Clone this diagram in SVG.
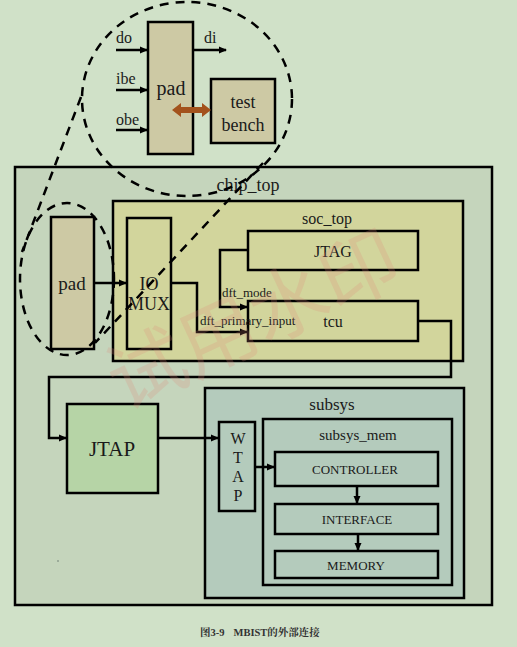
<svg xmlns="http://www.w3.org/2000/svg" width="517" height="647" viewBox="0 0 517 647">
<defs>
<marker id="ah" markerWidth="8" markerHeight="8" refX="7" refY="4" orient="auto" markerUnits="userSpaceOnUse">
<path d="M0,0.5 L8,4 L0,7.5 z" fill="#000"/>
</marker>
</defs>
<style>
.box{stroke:#000;stroke-width:2.5}
.t{font-family:"Liberation Serif",serif;fill:#1a1a1a;text-anchor:middle}
.dash{fill:none;stroke:#000;stroke-width:2.5;stroke-dasharray:9,7}
.c{fill:none;stroke:#000;stroke-width:2.5}
</style>
<rect width="517" height="647" fill="#d0e1c8"/>
<g id="chip_top"><rect class="box" x="15" y="167" width="477" height="438" fill="#c5d5bc"/><text class="t" x="248" y="191" font-size="18">chip_top</text></g>
<g id="soc_top"><rect class="box" x="113" y="201" width="350" height="160" fill="#d2d59c"/><text class="t" x="327" y="224" font-size="16">soc_top</text></g>
<g id="pad"><rect class="box" x="51" y="217" width="43" height="132" fill="#cdc9a4"/><text class="t" x="72" y="290" font-size="19">pad</text></g>
<g id="iomux"><rect class="box" x="127" y="218" width="44" height="131" fill="#d2d59c"/><text class="t" x="149" y="290" font-size="18">IO</text><text class="t" x="149" y="310" font-size="18">MUX</text></g>
<g id="jtag"><rect class="box" x="248" y="231" width="170" height="39" fill="#d2d59c"/><text class="t" x="333" y="257" font-size="16">JTAG</text></g>
<g id="tcu"><rect class="box" x="248" y="301" width="170" height="40" fill="#d2d59c"/><text class="t" x="333" y="327" font-size="16">tcu</text></g>
<g id="jtap"><rect class="box" x="67" y="404" width="91" height="89" fill="#b6d4a6"/><text class="t" x="112" y="456" font-size="21">JTAP</text></g>
<g id="subsys"><rect class="box" x="205" y="388" width="259" height="210" fill="#b4cbbc"/><text class="t" x="332" y="410" font-size="17">subsys</text></g>
<g id="wtap"><rect class="box" x="219" y="422" width="36" height="89" fill="#b4cbbc"/><text class="t" x="238" y="444" font-size="16">W</text><text class="t" x="238" y="463" font-size="16">T</text><text class="t" x="238" y="482" font-size="16">A</text><text class="t" x="238" y="501" font-size="16">P</text></g>
<g id="subsys_mem"><rect class="box" x="263" y="419" width="189" height="166" fill="#b4cbbc"/><text class="t" x="358" y="440" font-size="15">subsys_mem</text></g>
<g id="controller"><rect class="box" x="275" y="452" width="163" height="34" fill="#b4cbbc"/><text class="t" x="355" y="474" font-size="13">CONTROLLER</text></g>
<g id="interface"><rect class="box" x="275" y="504" width="163" height="30" fill="#b4cbbc"/><text class="t" x="357" y="524" font-size="13">INTERFACE</text></g>
<g id="memory"><rect class="box" x="275" y="551" width="163" height="27" fill="#b4cbbc"/><text class="t" x="356" y="570" font-size="13">MEMORY</text></g>
<g id="pad_zoom"><rect class="box" x="148" y="22" width="45" height="132" fill="#cdc9a4"/><text class="t" x="171" y="95" font-size="20">pad</text></g>
<g id="testbench"><rect class="box" x="211" y="79" width="64" height="64" fill="#cdc9a4"/><text class="t" x="243" y="108" font-size="18">test</text><text class="t" x="243" y="131" font-size="18">bench</text></g>
<g id="connectors">
<path class="c" d="M116,50 H147" marker-end="url(#ah)"/>
<path class="c" d="M116,90 H147" marker-end="url(#ah)"/>
<path class="c" d="M116,130 H147" marker-end="url(#ah)"/>
<path class="c" d="M193,50 H226" marker-end="url(#ah)"/>
<path d="M172,110 L181,103 V107 H202 V103 L211,110 L202,117 V113 H181 V117 z" fill="#a3521c"/>
<path class="c" d="M94,283 H126" marker-end="url(#ah)"/>
<path class="c" d="M171,283 H197 V332 H247" marker-end="url(#ah)"/>
<path class="c" d="M248,250 H220 V307 H247" marker-end="url(#ah)"/>
<path class="c" d="M418,321 H451 V377 H49 V438 H66" marker-end="url(#ah)"/>
<path class="c" d="M158,438 H218" marker-end="url(#ah)"/>
<path class="c" d="M255,467 H274" marker-end="url(#ah)"/>
<path class="c" d="M357,486 V503" marker-end="url(#ah)"/>
<path class="c" d="M358,534 V550" marker-end="url(#ah)"/>
</g>
<g id="labels" font-family="Liberation Serif,serif" font-size="13" fill="#1a1a1a">
<text x="222" y="297">dft_mode</text>
<text x="200" y="325">dft_primary_input</text>
<text x="116" y="43" font-size="16">do</text>
<text x="116" y="84" font-size="16">ibe</text>
<text x="116" y="125" font-size="16">obe</text>
<text x="204" y="43" font-size="16">di</text>
</g>
<g id="zoom_outline">
<ellipse class="dash" cx="187" cy="99" rx="105" ry="97"/>
<ellipse class="dash" cx="67" cy="279" rx="47" ry="76"/>
<path class="dash" d="M81,97 L22,252"/>
<path class="dash" d="M263,163 L95,343"/>
</g>
<text x="265" y="345" transform="rotate(-25 265 345)" text-anchor="middle" font-family="Noto Sans CJK SC,sans-serif" font-size="78" fill="#e08a7a" fill-opacity="0.22">试用水印</text>
<circle cx="58" cy="561" r="0.8" fill="#6a7a70"/>
<text x="200" y="636" font-family="Liberation Serif,Noto Serif CJK SC,Noto Sans CJK SC,serif" font-size="10.5" font-weight="bold" fill="#333">图3-9<tspan dx="9">MBIST的外部连接</tspan></text>
</svg>
